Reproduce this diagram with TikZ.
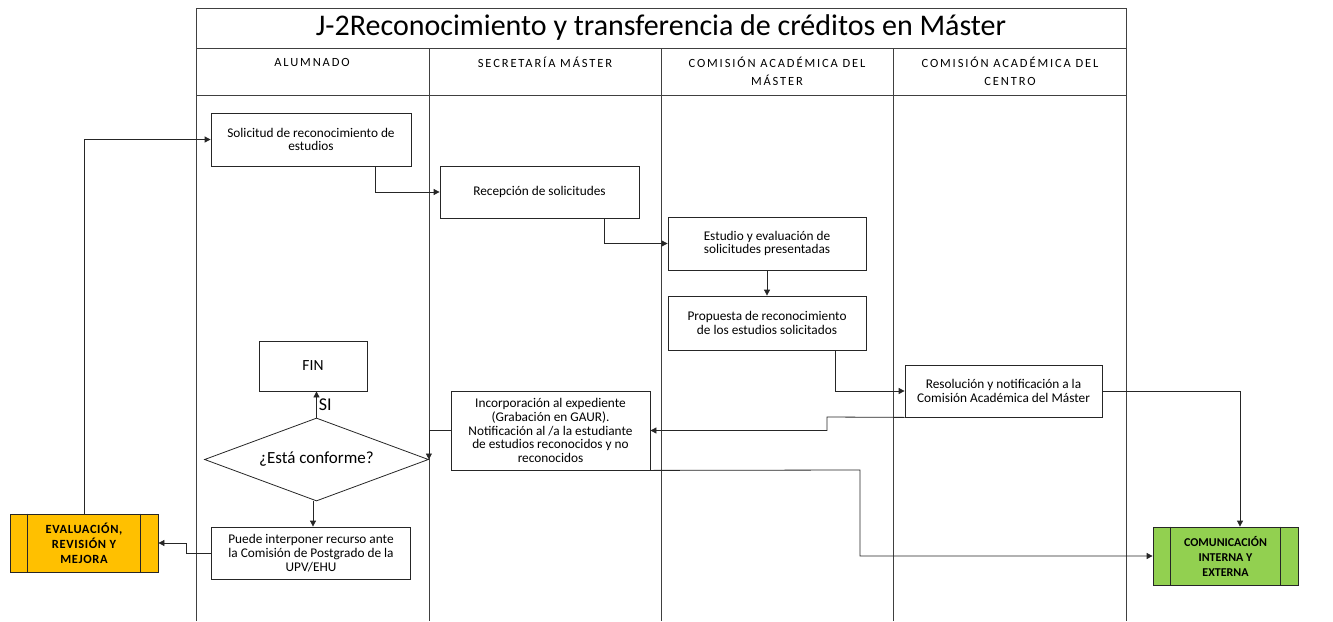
\documentclass[tikz,border=0pt]{standalone}
\usepackage{fontspec}
\setmainfont{Carlito}
\newfontfamily\hdrfont[LetterSpace=15]{Carlito}
\newfontfamily\evafont[LetterSpace=5]{Carlito}
\usetikzlibrary{arrows.meta,shapes.geometric}
\begin{document}
\begin{tikzpicture}[x=1pt,y=-1pt,
  lane/.style={draw=black!75,line width=0.9pt},
  box/.style={draw=black!85,line width=0.8pt,align=center,inner sep=1pt,font=\fontsize{13.3}{13.8}\selectfont},
  proc/.style={draw=black!85,line width=0.8pt,align=center,inner sep=1pt,font=\bfseries\fontsize{12}{15}\selectfont},
  hdr/.style={align=center,font=\hdrfont\fontsize{12.5}{18}\selectfont},
  conn/.style={draw=black!85,line width=0.8pt},
  arr/.style={conn,-{Triangle[length=6pt,width=6pt]}}]
\useasboundingbox (0,0) rectangle (1333,621);
% frame
\draw[lane] (196,621) -- (196,8) -- (1126,8) -- (1126,621);
\draw[lane] (196,48) -- (1126,48);
\draw[lane] (196,95) -- (1126,95);
\draw[lane] (429,48) -- (429,621);
\draw[lane] (661,48) -- (661,621);
\draw[lane] (893,48) -- (893,621);
\node (title) at (661,28) {\fontsize{30}{32}\selectfont J-2Reconocimiento y transferencia de créditos en Máster};
\node[hdr] (h1) at (312,62) {ALUMNADO};
\node[hdr] (h2) at (545,62) {SECRETARÍA MÁSTER};
\node[hdr] (h3) at (777,71) {COMISIÓN ACADÉMICA DEL\\MÁSTER};
\node[hdr] (h4) at (1010,71) {COMISIÓN ACADÉMICA DEL\\CENTRO};
% boxes
\node[box,minimum width=200,minimum height=53] (sol) at (311,139.5) {Solicitud de reconocimiento de\\estudios};
\node[box,minimum width=199,minimum height=52] (rec) at (539.5,192) {Recepción de solicitudes};
\node[box,minimum width=198,minimum height=53] (est) at (767,243.5) {Estudio y evaluación de\\solicitudes presentadas};
\node[box,minimum width=198,minimum height=54] (pro) at (767,323) {Propuesta de reconocimiento\\de los estudios solicitados};
\node[box,minimum width=197,minimum height=52] (res) at (1003.5,391) {Resolución y notificación a la\\Comisión Académica del Máster};
\node[box,minimum width=199,minimum height=79] (inc) at (550.5,430.5) {Incorporación al expediente\\(Grabación en GAUR).\\Notificación al /a la estudiante\\de estudios reconocidos y no\\reconocidos};
\node[box,minimum width=108,minimum height=50,font=\fontsize{15.5}{17}\selectfont] (fin) at (313,366) {FIN};
\node[diamond,aspect=2.7,draw=black!85,line width=0.8pt,minimum width=224,minimum height=83,inner sep=0pt,font=\fontsize{17}{19}\selectfont] (dia) at (316.5,459.5) {¿Está conforme?};
\node[box,minimum width=199,minimum height=52] (pue) at (311,553) {Puede interponer recurso ante\\la Comisión de Postgrado de la\\UPV/EHU};
\node[proc,font=\evafont\bfseries\fontsize{12.5}{15}\selectfont,fill={rgb,255:red,255;green,192;blue,0},minimum width=148,minimum height=58] (eva) at (84,543) {EVALUACIÓN,\\REVISIÓN Y\\MEJORA};
\draw[draw=black!85,line width=0.8pt] ([xshift=18]eva.north west) -- ([xshift=18]eva.south west) ([xshift=-18]eva.north east) -- ([xshift=-18]eva.south east);
\node[proc,fill={rgb,255:red,146;green,208;blue,80},minimum width=145,minimum height=58] (com) at (1225.5,556) {COMUNICACIÓN\\INTERNA Y\\EXTERNA};
\draw[draw=black!85,line width=0.8pt] ([xshift=18]com.north west) -- ([xshift=18]com.south west) ([xshift=-18]com.north east) -- ([xshift=-18]com.south east);
% connectors
\draw[arr] (sol.south -| 375,0) |- (rec.west);
\draw[arr] (rec.south -| 604,0) |- (est.west);
\draw[arr] (est.south) -- (pro.north);
\draw[arr] (pro.south -| 835,0) |- (res.west);
\draw[arr] (res.east) -| (com.north -| 1240,0);
\draw[arr] (res.south west) -- (827,417) -- (827,430.5) -- (inc.east);
\draw[arr] (inc.west) -| (dia.east);
\draw[arr] (inc.south east) -- (860,470) |- (com.west);
\draw[arr] (dia.north) -- node[right,font=\fontsize{18}{19}\selectfont,inner sep=2pt] {SI} (fin.south -| dia.north);
\draw[arr] (dia.south -| 313,0) -- (pue.north -| 313,0);
\draw[arr] (pue.west) -- (186,553) |- (eva.east);
\draw[arr] (eva.north) |- (sol.west);
\end{tikzpicture}
\end{document}
